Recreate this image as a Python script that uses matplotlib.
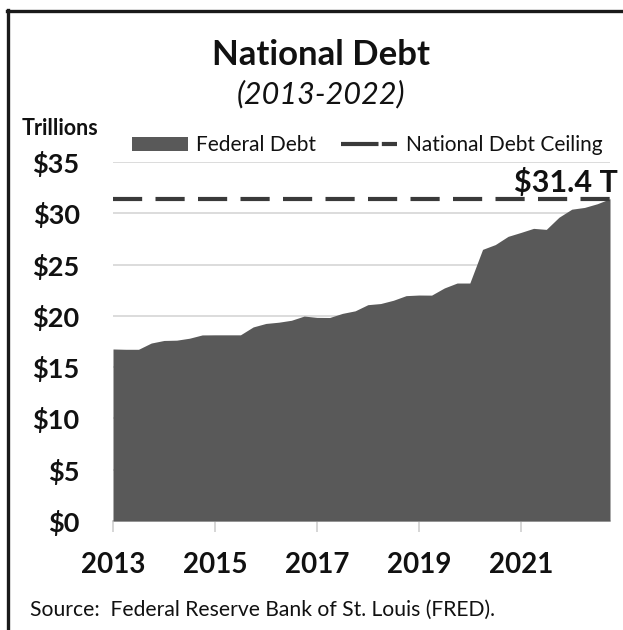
import matplotlib
matplotlib.use("Agg")
import matplotlib.pyplot as plt
import numpy as np
import pandas as pd
from matplotlib.patches import Patch
from matplotlib.lines import Line2D

# ---- data (quarterly, trillions USD) ----
quarters = pd.date_range("2013-01-01", "2022-10-01", freq="QS")
federal_debt = [
    16.77, 16.74, 16.74, 17.35,
    17.60, 17.63, 17.82, 18.14,
    18.15, 18.15, 18.15, 18.92,
    19.26, 19.38, 19.57, 19.98,
    19.85, 19.84, 20.24, 20.49,
    21.09, 21.20, 21.52, 21.97,
    22.03, 22.02, 22.72, 23.20,
    23.20, 26.48, 26.95, 27.75,
    28.13, 28.53, 28.43, 29.62,
    30.40, 30.57, 30.93, 31.42,
]
debt_ceiling = 31.4
ceiling_label = "$31.4 T"
y_ticks = [0, 5, 10, 15, 20, 25, 30, 35]
y_labels = ["$0", "$5", "$10", "$15", "$20", "$25", "$30", "$35"]
x_ticks = [2013, 2015, 2017, 2019, 2021]

years = quarters.year + (quarters.month - 1) / 12.0

FONT = "Lato"
plt.rcParams["font.family"] = [FONT, "DejaVu Sans"]

fig = plt.figure(figsize=(6.23, 6.30), dpi=100)
ax = fig.add_axes([113 / 623, 109 / 630, 497 / 623, 359 / 630])

area_color = "#595959"
ax.fill_between(years, 0, federal_debt, color=area_color, linewidth=0, zorder=2)
ax.plot([years[0], years[-1]], [debt_ceiling, debt_ceiling], color="#3a3a3a",
        lw=3.0, dashes=(7, 3.2), solid_capstyle="butt", dash_capstyle="butt", zorder=3)

ax.set_xlim(years[0], years[-1])
ax.set_ylim(0, 35)
ax.set_yticks(y_ticks)
ax.set_yticklabels(y_labels, fontsize=19.5, fontweight="bold", color="#111111")
ax.set_xticks(x_ticks)
ax.set_xticklabels([str(x) for x in x_ticks], fontsize=20, fontweight="bold", color="#111111")
ax.tick_params(axis="y", length=0, pad=24)
ax.tick_params(axis="x", length=8, width=1.2, color="#d0d0d0", pad=14, direction="out")

ax.grid(axis="y", color="#d9d9d9", lw=1.3, zorder=0)
ax.set_axisbelow(True)
for s in ["top", "right", "left"]:
    ax.spines[s].set_visible(False)
ax.spines["bottom"].set_color("#c8c8c8")
ax.spines["bottom"].set_linewidth(1.2)
ax.spines["bottom"].set_zorder(1)

ax.text(1.016, 32.1, ceiling_label, transform=ax.get_yaxis_transform(),
        ha="right", va="baseline", fontsize=22, fontweight="bold", color="#111111")

# titles
fig.text(321 / 623, 1 - 55 / 630, "National Debt", ha="center", va="center",
         fontsize=25, fontweight="bold", color="#111111")
fig.text(321 / 623, 1 - 94 / 630, "(2013-2022)", ha="center", va="center",
         fontsize=22, fontstyle="italic", color="#111111")
fig.text(60 / 623, 1 - 129 / 630, "Trillions", ha="center", va="center",
         fontsize=15.5, fontweight="bold", color="#111111")
fig.text(30 / 623, 1 - 610 / 630, "Source:  Federal Reserve Bank of St. Louis (FRED).",
         ha="left", va="center", fontsize=15.2, color="#111111")

# legend
handles = [
    Patch(facecolor=area_color, edgecolor="none", label="Federal Debt"),
    Line2D([0], [0], color="#3a3a3a", lw=3.0, dashes=(9, 0.8, 4.8, 20),
           dash_capstyle="butt", label="National Debt Ceiling"),
]
leg = fig.legend(handles=handles, loc="center", bbox_to_anchor=(367 / 623, 1 - 145 / 630),
                 ncol=2, frameon=False, fontsize=15, handlelength=2.7, handleheight=0.65,
                 handletextpad=0.4, columnspacing=1.2, borderpad=0, borderaxespad=0)
for t in leg.get_texts():
    t.set_color("#111111")

# frame (left and top edges)
fig.add_artist(Line2D([8 / 623, 8 / 623], [0, 1 - 9.5 / 630], transform=fig.transFigure,
                      color="#1a1a1a", lw=2.4))
fig.add_artist(Line2D([7 / 623, 1], [1 - 10.5 / 630, 1 - 10.5 / 630], transform=fig.transFigure,
                      color="#1a1a1a", lw=2.4))

fig.savefig("out.png", dpi=100, facecolor="white")
